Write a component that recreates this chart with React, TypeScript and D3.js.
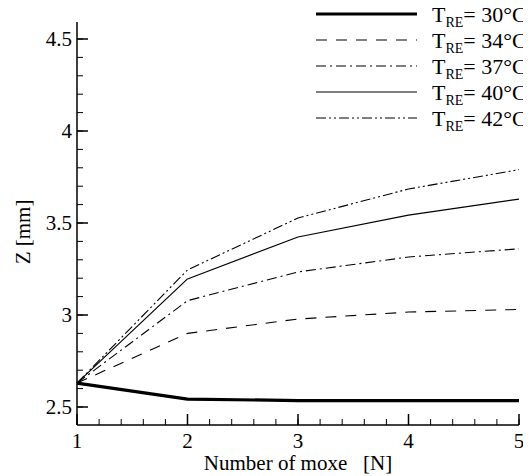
import React from "react";
import * as d3 from "d3";

const moxeCounts = [1, 2, 3, 4, 5];
const seriesLabels = ["30°C", "34°C", "37°C", "40°C", "42°C"];
const z30 = [2.63, 2.543, 2.535, 2.535, 2.535];
const z34 = [2.63, 2.9, 2.978, 3.016, 3.03];
const z37 = [2.63, 3.078, 3.234, 3.315, 3.36];
const z40 = [2.63, 3.196, 3.424, 3.543, 3.63];
const z42 = [2.63, 3.245, 3.527, 3.685, 3.79];
const xTicks = [1, 2, 3, 4, 5];
const yTicks = [2.5, 3, 3.5, 4, 4.5];

const W = 531;
const H = 476;
const left = 77;
const right = 519;
const top = 22;
const bottom = 425;

const styles = [
  { width: 3.2, dash: "" },
  { width: 1.1, dash: "11 9" },
  { width: 1.1, dash: "10 4 2 4" },
  { width: 1.2, dash: "" },
  { width: 1.1, dash: "10 3 2 3 2 3" },
];

const SERIF = "Liberation Serif";

export default function App() {
  const x = d3.scaleLinear().domain([1, 5]).range([left, right]);
  const y = d3.scaleLinear().domain([2.5, 4.5]).range([407, 39]);
  const series = [z30, z34, z37, z40, z42];
  const line = d3
    .line<number>()
    .x((_, i) => x(moxeCounts[i]))
    .y((d) => y(d));

  const yMinor = d3.range(2.5, 4.55, 0.1).filter((v) => y(v) >= top && y(v) <= bottom);
  const xMinor = d3.range(1, 5.001, 0.2);

  return (
    <svg
      width={W}
      height={H}
      style={{ display: "block", marginLeft: -8, marginTop: -8, fontFamily: SERIF }}
    >
      <style>{`text, tspan { font-family: "Liberation Serif", serif; }`}</style>
      <g fill="none" stroke="#000">
        {series.map((s, i) => (
          <path
            key={i}
            d={line(s) || ""}
            strokeWidth={styles[i].width}
            strokeDasharray={styles[i].dash}
            strokeLinejoin="round"
          />
        ))}
      </g>
      {/* axes */}
      <g stroke="#000" strokeWidth={1.5}>
        <line x1={left} y1={top} x2={left} y2={bottom} />
        <line x1={left} y1={bottom} x2={right} y2={bottom} />
        {yMinor.map((v, i) => (
          <line key={"ym" + i} x1={left} x2={left + 6} y1={y(v)} y2={y(v)} strokeWidth={1} />
        ))}
        {yTicks.map((v) => (
          <line key={"yt" + v} x1={left} x2={left + 11} y1={y(v)} y2={y(v)} strokeWidth={1.5} />
        ))}
        {xMinor.map((v, i) => (
          <line key={"xm" + i} x1={x(v)} x2={x(v)} y1={bottom} y2={bottom - 6} strokeWidth={1} />
        ))}
        {xTicks.map((v) => (
          <line key={"xt" + v} x1={x(v)} x2={x(v)} y1={bottom} y2={bottom - 11} strokeWidth={1.5} />
        ))}
      </g>
      {yTicks.map((v) => (
        <text key={"yl" + v} x={left - 5} y={y(v) + 7} textAnchor="end" fontFamily={SERIF} fontSize={21}>
          {String(v)}
        </text>
      ))}
      {xTicks.map((v) => (
        <text key={"xl" + v} x={x(v)} y={448} textAnchor="middle" fontFamily={SERIF} fontSize={21}>
          {String(v)}
        </text>
      ))}
      <text x={298} y={470} textAnchor="middle" fontFamily={SERIF} fontSize={21} style={{ whiteSpace: "pre" }}>
        {"Number of moxe   [N]"}
      </text>
      <text transform="translate(30,232) rotate(-90)" textAnchor="middle" fontFamily={SERIF} fontSize={21}>
        Z [mm]
      </text>
      {/* legend */}
      {seriesLabels.map((lab, i) => {
        const ly = 14 + i * 26;
        return (
          <g key={lab}>
            <line
              x1={316}
              x2={417}
              y1={ly}
              y2={ly}
              stroke="#000"
              strokeWidth={styles[i].width}
              strokeDasharray={styles[i].dash}
            />
            <text x={432} y={ly + 8} fontFamily={SERIF} fontSize={22}>
              T
              <tspan fontSize={14} dy={5}>RE</tspan>
              <tspan dy={-5}>{"= " + lab}</tspan>
            </text>
          </g>
        );
      })}
    </svg>
  );
}
